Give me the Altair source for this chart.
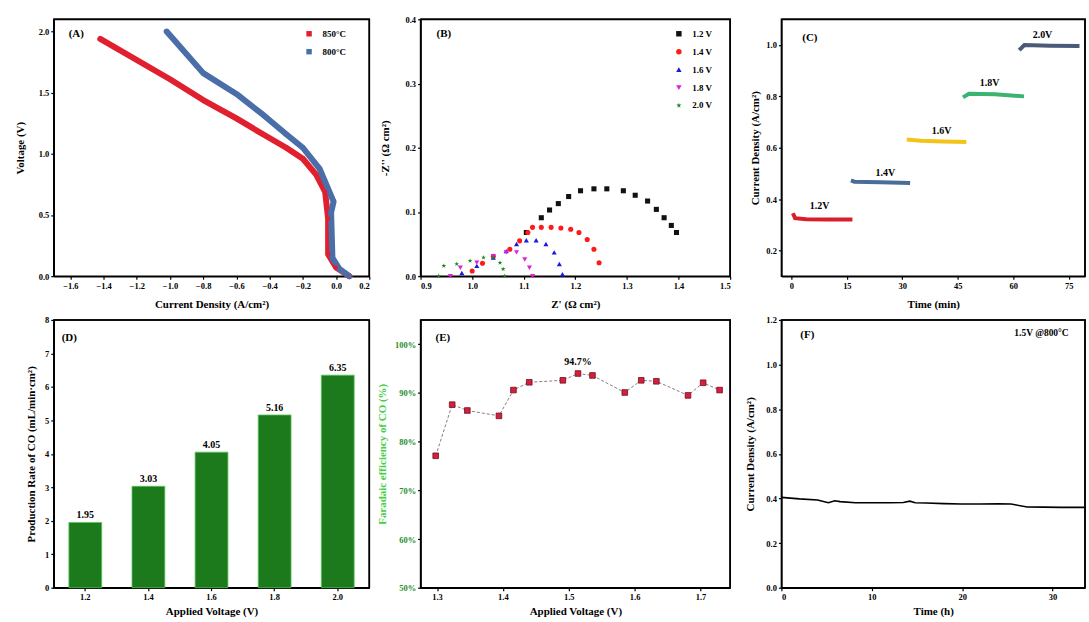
import altair as alt
import pandas as pd

SERIF = "Liberation Serif"

# ---------------- (A) polarisation curves ----------------
a850_j = [-1.42, -1.00, -0.80, -0.60, -0.44, -0.30, -0.20, -0.12, -0.066, -0.048, -0.048, 0.00, 0.08]
a850_v = [1.94, 1.61, 1.44, 1.29, 1.16, 1.05, 0.96, 0.83, 0.69, 0.47, 0.18, 0.07, 0.00]
a800_j = [-1.02, -0.80, -0.60, -0.44, -0.30, -0.20, -0.10, -0.015, -0.03, -0.022, 0.02, 0.08]
a800_v = [2.00, 1.66, 1.49, 1.32, 1.16, 1.05, 0.88, 0.61, 0.52, 0.15, 0.06, 0.00]
a_series = ["850°C", "800°C"]
a_colors = ["#e0202e", "#4a6ea8"]

# ---------------- (B) impedance spectra ----------------
b12_x = [1.105, 1.134, 1.150, 1.167, 1.187, 1.210, 1.236, 1.261, 1.293, 1.316, 1.340, 1.357, 1.372, 1.386, 1.396]
b12_y = [0.068, 0.091, 0.103, 0.113, 0.124, 0.133, 0.136, 0.136, 0.133, 0.126, 0.117, 0.104, 0.091, 0.079, 0.068]
b14_x = [1.000, 1.020, 1.041, 1.073, 1.092, 1.108, 1.117, 1.134, 1.153, 1.172, 1.191, 1.207, 1.223, 1.236, 1.246]
b14_y = [0.008, 0.020, 0.031, 0.042, 0.055, 0.068, 0.076, 0.076, 0.076, 0.075, 0.073, 0.068, 0.057, 0.042, 0.021]
b16_x = [0.980, 1.009, 1.041, 1.066, 1.086, 1.105, 1.124, 1.143, 1.159, 1.169, 1.175]
b16_y = [0.005, 0.016, 0.029, 0.039, 0.050, 0.056, 0.056, 0.050, 0.037, 0.019, 0.003]
b18_x = [0.958, 0.977, 1.009, 1.041, 1.066, 1.086, 1.102, 1.111, 1.117]
b18_y = [0.000, 0.013, 0.021, 0.031, 0.037, 0.037, 0.026, 0.013, 0.000]
b20_x = [0.935, 0.945, 0.970, 0.996, 1.022, 1.041, 1.054, 1.060, 1.063]
b20_y = [0.000, 0.016, 0.019, 0.024, 0.029, 0.029, 0.021, 0.011, 0.000]
b_series = ["1.2 V", "1.4 V", "1.6 V", "1.8 V", "2.0 V"]
b_colors = ["#111111", "#ff1a1a", "#1a1adc", "#e01ee0", "#1a8a1a"]
STAR = "M0,-1L0.224,-0.309L0.951,-0.309L0.363,0.118L0.588,0.809L0,0.382L-0.588,0.809L-0.363,0.118L-0.951,-0.309L-0.224,-0.309Z"
b_shapes = ["square", "circle", "triangle-up", "triangle-down", STAR]

# ---------------- (C) chronoamperometry steps ----------------
c12_t = [0.4, 1.0, 4.0, 10.0, 16.5]
c12_j = [0.345, 0.326, 0.322, 0.321, 0.321]
c14_t = [16.1, 17.0, 24.0, 32.1]
c14_j = [0.473, 0.468, 0.466, 0.463]
c16_t = [31.2, 35.0, 41.0, 47.3]
c16_j = [0.632, 0.627, 0.624, 0.622]
c18_t = [46.4, 48.0, 55.0, 62.9]
c18_j = [0.796, 0.810, 0.808, 0.800]
c20_t = [61.6, 63.0, 70.0, 77.9]
c20_j = [0.980, 1.000, 0.997, 0.996]
c_series = ["1.2V", "1.4V", "1.6V", "1.8V", "2.0V"]
c_colors = ["#d81e2a", "#4a6c9b", "#f2c418", "#3cb371", "#4a5a78"]
c_label_t = [7.6, 25.4, 40.6, 53.6, 67.9]
c_label_j = [0.375, 0.503, 0.665, 0.852, 1.040]

# ---------------- (D) CO production rate ----------------
d_volt = ["1.2", "1.4", "1.6", "1.8", "2.0"]
d_rate = [1.95, 3.03, 4.05, 5.16, 6.35]

# ---------------- (E) Faradaic efficiency ----------------
e_volt = [1.298, 1.323, 1.346, 1.394, 1.416, 1.440, 1.491, 1.514, 1.536, 1.585, 1.610, 1.633, 1.681, 1.704, 1.729]
e_fe = [77.1, 87.6, 86.4, 85.3, 90.6, 92.2, 92.6, 94.0, 93.6, 90.1, 92.6, 92.4, 89.5, 92.1, 90.6]
e_peak_label = "94.7%"

# ---------------- (F) stability ----------------
f_t = [0, 2, 4, 5.2, 5.9, 6.5, 8.2, 10, 12, 13.5, 14.2, 14.8, 16, 18, 19.9, 22, 24, 25.4, 27.2, 29, 31, 33.6]
f_j = [0.405, 0.398, 0.393, 0.381, 0.390, 0.386, 0.381, 0.381, 0.381, 0.382, 0.388, 0.381, 0.380, 0.377, 0.375, 0.375, 0.376, 0.375, 0.362, 0.361, 0.360, 0.360]
f_note = "1.5V @800°C"

panel_tags = ["(A)", "(B)", "(C)", "(D)", "(E)", "(F)"]

# axis domains (style: plot extents)
dom_xA, dom_yA = [-1.7, 0.2], [0, 2.1]
dom_xB, dom_yB = [0.9, 1.5], [0, 0.4]
dom_xC, dom_yC = [-2.7, 79.4], [0.1, 1.1]
dom_yD = [0, 8]
dom_xE, dom_yE = [1.275, 1.745], [50, 105]
dom_xF, dom_yF = [0, 33.6], [0, 1.2]

W1, W2, W3 = 317, 311, 305
H1, H2 = 258, 269


def ax(title, values, fmt=None, tpad=4, ext=None, **kw):
    args = dict(title=title, values=values, titlePadding=tpad, grid=False,
                tickSize=3, labelPadding=2)
    if fmt:
        args["format"] = fmt
    if ext is not None:
        args["minExtent"] = ext
        args["maxExtent"] = ext
    args.update(kw)
    return alt.Axis(**args)


def frame_line(xenc, yenc, xf, yf, xd, yd):
    """top + right border drawn through the panel's own scales and axes"""
    df = pd.DataFrame({xf: [xd[0], xd[1], xd[1]], yf: [yd[1], yd[1], yd[0]], "o": [0, 1, 2]})
    return alt.Chart(df).mark_line(color="black", strokeWidth=1.6).encode(xenc, yenc, order="o:Q")


def tag(label, px, py):
    return alt.Chart(pd.DataFrame({"t": [label]})).mark_text(
        align="left", baseline="middle", fontSize=11, fontWeight="bold", font=SERIF
    ).encode(x=alt.value(px), y=alt.value(py), text="t:N")


def leg(lx, ly):
    return alt.Legend(title=None, orient="none", legendX=lx, legendY=ly,
                      labelFont=SERIF, labelFontSize=9, labelFontWeight="bold",
                      symbolSize=30, rowPadding=8, labelOffset=9, padding=0,
                      symbolStrokeWidth=0)


# ---- A
dfA = pd.DataFrame({
    "J": a850_j + a800_j,
    "V": a850_v + a800_v,
    "T": [a_series[0]] * len(a850_j) + [a_series[1]] * len(a800_j),
    "i": list(range(len(a850_j))) + list(range(len(a800_j))),
})
sxA = alt.Scale(domain=dom_xA, nice=False, zero=False)
syA = alt.Scale(domain=dom_yA, nice=False)
xA = alt.X("J:Q", scale=sxA,
           axis=ax("Current Density (A/cm²)", [-1.6, -1.4, -1.2, -1.0, -0.8, -0.6, -0.4, -0.2, 0.0, 0.2], ".1f", tpad=9))
yA = alt.Y("V:Q", scale=syA, axis=ax("Voltage (V)", [0, 0.5, 1.0, 1.5, 2.0], ".1f", tpad=6, ext=22))
colA = alt.Scale(domain=a_series, range=a_colors)
linesA = [
    alt.Chart(dfA).transform_filter(alt.datum.T == s).mark_line(
        strokeWidth=6, strokeCap="round", strokeJoin="round", color=c
    ).encode(xA, yA, order="i:Q")
    for s, c in zip(a_series, a_colors)
]
ptsA = alt.Chart(dfA).mark_point(filled=True, shape="square", size=16, opacity=1).encode(
    xA, yA, color=alt.Color("T:N", scale=colA, legend=leg(252, 10)))
chartA = alt.layer(*linesA, ptsA, frame_line(xA, yA, "J", "V", dom_xA, dom_yA),
                   tag(panel_tags[0], 15, 15)).properties(width=W1, height=H1)

# ---- B
rowsB = []
for name, xs, ys in zip(b_series, [b12_x, b14_x, b16_x, b18_x, b20_x], [b12_y, b14_y, b16_y, b18_y, b20_y]):
    for x, y in zip(xs, ys):
        rowsB.append({"Z": x, "Zi": y, "S": name})
dfB = pd.DataFrame(rowsB)
sxB = alt.Scale(domain=dom_xB, nice=False, zero=False)
syB = alt.Scale(domain=dom_yB, nice=False)
xB = alt.X("Z:Q", scale=sxB, axis=ax("Z' (Ω cm²)", [0.9, 1.0, 1.1, 1.2, 1.3, 1.4, 1.5], ".1f", tpad=9))
yB = alt.Y("Zi:Q", scale=syB, axis=ax("-Z'' (Ω cm²)", [0, 0.1, 0.2, 0.3, 0.4], ".1f", tpad=5, ext=25))
ptsB = alt.Chart(dfB).mark_point(filled=True, size=26, opacity=1).encode(
    xB, yB,
    color=alt.Color("S:N", scale=alt.Scale(domain=b_series, range=b_colors), legend=leg(255, 10)),
    shape=alt.Shape("S:N", scale=alt.Scale(domain=b_series, range=b_shapes), legend=leg(255, 10)),
)
chartB = alt.layer(ptsB, frame_line(xB, yB, "Z", "Zi", dom_xB, dom_yB),
                   tag(panel_tags[1], 16, 15)).properties(width=W2, height=H1)

# ---- C
rowsC = []
for name, ts, js in zip(c_series, [c12_t, c14_t, c16_t, c18_t, c20_t], [c12_j, c14_j, c16_j, c18_j, c20_j]):
    for k, (t, j) in enumerate(zip(ts, js)):
        rowsC.append({"t": t, "j": j, "S": name, "k": k})
dfC = pd.DataFrame(rowsC)
dfCl = pd.DataFrame({"t": c_label_t, "j": c_label_j, "S": c_series})
sxC = alt.Scale(domain=dom_xC, nice=False, zero=False)
syC = alt.Scale(domain=dom_yC, nice=False, zero=False)
xC = alt.X("t:Q", scale=sxC, axis=ax("Time (min)", [0, 15, 30, 45, 60, 75], "d", tpad=9))
yC = alt.Y("j:Q", scale=syC, axis=ax("Current Density (A/cm²)", [0.2, 0.4, 0.6, 0.8, 1.0], ".1f", tpad=4, ext=17))
colC = alt.Scale(domain=c_series, range=c_colors)
lineC = alt.Chart(dfC).mark_line(strokeWidth=4).encode(
    xC, yC, color=alt.Color("S:N", scale=colC, legend=None), detail="S:N", order="k:Q")
textC = alt.Chart(dfCl).mark_text(font=SERIF, fontSize=10, fontWeight="bold", color="black").encode(
    xC, yC, text="S:N")
chartC = alt.layer(lineC, textC, frame_line(xC, yC, "t", "j", dom_xC, dom_yC),
                   tag(panel_tags[2], 21, 19)).properties(width=W3, height=H1)

# ---- D
dfD = pd.DataFrame({"v": d_volt, "r": d_rate, "lab": [f"{r:.2f}" for r in d_rate]})
sxD = alt.Scale(paddingInner=0.48, paddingOuter=0.24)
syD = alt.Scale(domain=dom_yD, nice=False)
xD = alt.X("v:N", sort=d_volt, scale=sxD, axis=ax("Applied Voltage (V)", d_volt, tpad=4, labelAngle=0))
yD = alt.Y("r:Q", scale=syD,
           axis=ax("Production Rate of CO (mL/min·cm²)", [0, 1, 2, 3, 4, 5, 6, 7, 8], "d", tpad=5, ext=12))
barsD = alt.Chart(dfD).mark_bar(color="#1c7a1c", stroke="#56c456", strokeWidth=0.8).encode(xD, yD)
textD = alt.Chart(dfD).mark_text(dy=-7, font=SERIF, fontSize=10, fontWeight="bold", color="black").encode(
    xD, yD, text="lab:N")
dfDt = pd.DataFrame({"r": [dom_yD[1]]})
topD = alt.Chart(dfDt).mark_rule(color="black", strokeWidth=1.6).encode(
    yD, x=alt.value(0), x2=alt.value(W1))
rightD = alt.Chart(dfDt).mark_rule(color="black", strokeWidth=1.6).encode(
    yD, x=alt.value(W1), y2=alt.value(H2))
chartD = alt.layer(barsD, textD, topD, rightD, tag(panel_tags[3], 8, 18)).properties(width=W1, height=H2)

# ---- E
dfE = pd.DataFrame({"v": e_volt, "fe": e_fe})
ipk = e_fe.index(max(e_fe))
dfEl = pd.DataFrame({"v": [e_volt[ipk]], "fe": [e_fe[ipk]], "lab": [e_peak_label]})
sxE = alt.Scale(domain=dom_xE, nice=False, zero=False)
syE = alt.Scale(domain=dom_yE, nice=False, zero=False)
xE = alt.X("v:Q", scale=sxE, axis=ax("Applied Voltage (V)", [1.3, 1.4, 1.5, 1.6, 1.7], ".1f", tpad=4))
yE = alt.Y("fe:Q", scale=syE,
           axis=ax("Faradaic efficiency of CO (%)", [50, 60, 70, 80, 90, 100], tpad=3, ext=30,
                   labelExpr="datum.value + '%'", labelColor="#1f8f1f", titleColor="#44d044"))
lineE = alt.Chart(dfE).mark_line(strokeDash=[3, 2], strokeWidth=1, color="#8a7a80").encode(xE, yE)
ptsE = alt.Chart(dfE).mark_point(shape="square", filled=True, size=32, color="#d81e3c",
                                 stroke="#6a1020", strokeWidth=0.8, opacity=1).encode(xE, yE)
textE = alt.Chart(dfEl).mark_text(dy=-12, font=SERIF, fontSize=10, fontWeight="bold", color="black").encode(
    xE, yE, text="lab:N")
chartE = alt.layer(lineE, ptsE, textE, frame_line(xE, yE, "v", "fe", dom_xE, dom_yE),
                   tag(panel_tags[4], 15, 18)).properties(width=W2, height=H2)

# ---- F
dfF = pd.DataFrame({"t": f_t, "j": f_j})
sxF = alt.Scale(domain=dom_xF, nice=False, zero=False)
syF = alt.Scale(domain=dom_yF, nice=False)
xF = alt.X("t:Q", scale=sxF, axis=ax("Time (h)", [0, 10, 20, 30], "d", tpad=4))
yF = alt.Y("j:Q", scale=syF,
           axis=ax("Current Density (A/cm²)", [0, 0.2, 0.4, 0.6, 0.8, 1.0, 1.2], ".1f", tpad=6, ext=20))
lineF = alt.Chart(dfF).mark_line(color="black", strokeWidth=1.6).encode(xF, yF)
noteF = alt.Chart(pd.DataFrame({"t": [f_note]})).mark_text(
    align="left", baseline="middle", font=SERIF, fontSize=9.5, fontWeight="bold", clip=True
).encode(x=alt.value(234), y=alt.value(13), text="t:N")
chartF = alt.layer(lineF, noteF, frame_line(xF, yF, "t", "j", dom_xF, dom_yF),
                   tag(panel_tags[5], 19, 15)).properties(width=W3, height=H2)

chart = alt.concat(
    chartA, chartB, chartC, chartD, chartE, chartF,
    columns=3, spacing={"row": 44, "column": 51.5}, bounds="flush",
).resolve_scale(
    x="independent", y="independent", color="independent", shape="independent"
).resolve_legend(color="independent", shape="independent").properties(
    padding={"left": 14, "top": 13, "right": 0, "bottom": 0}
).configure_view(
    stroke="black", strokeWidth=1.5
).configure_axis(
    labelFont=SERIF, labelFontSize=8.5, labelFontWeight="bold", labelColor="black",
    titleFont=SERIF, titleFontSize=11, titleFontWeight="bold", titleColor="black",
    domainColor="black", domainWidth=1.5, tickColor="black", tickWidth=1.2
).configure_text(font=SERIF)

chart.save("out.html", embed_options={"renderer": "svg", "actions": False})
